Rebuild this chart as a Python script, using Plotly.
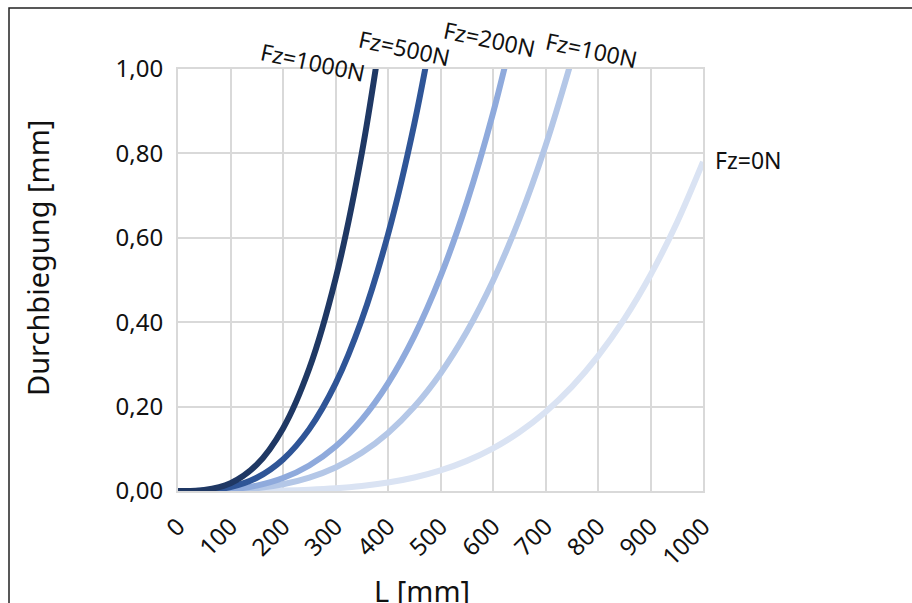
import plotly.graph_objects as go

# Length L [mm]
L_mm = [0, 50, 100, 150, 200, 250, 300, 350, 400, 450, 500, 550, 600, 650, 700, 750, 800, 850, 900, 950, 1000]

# Deflection [mm] (curves clipped at 1.00)
fz0 = [0, 0.0000, 0.0001, 0.0004, 0.0013, 0.0031, 0.0063, 0.0117, 0.0200, 0.0320, 0.0488,
       0.0714, 0.1011, 0.1392, 0.1873, 0.2468, 0.3195, 0.4072, 0.5118, 0.6353, 0.7800]
fz100 = [0, 0.0002, 0.0019, 0.0066, 0.0160, 0.0318, 0.0559, 0.0905, 0.1376, 0.1995, 0.2786,
         0.3772, 0.4981, 0.6440, 0.8177, 1.0222]
fz200 = [0, 0.0005, 0.0038, 0.0128, 0.0307, 0.0605, 0.1055, 0.1693, 0.2552, 0.3670, 0.5084,
         0.6830, 0.8951, 1.1488]
fz500 = [0, 0.0012, 0.0093, 0.0314, 0.0748, 0.1466, 0.2543, 0.4057, 0.6080, 0.8695, 1.1978]
fz1000 = [0, 0.0023, 0.0185, 0.0624, 0.1483, 0.2901, 0.5023, 0.7997, 1.1960]

series = [
    ("Fz=0N", fz0, "#DAE3F3"),
    ("Fz=100N", fz100, "#B4C7E7"),
    ("Fz=200N", fz200, "#8FAADC"),
    ("Fz=500N", fz500, "#2F5597"),
    ("Fz=1000N", fz1000, "#1F3864"),
]

x_ticks = [0, 100, 200, 300, 400, 500, 600, 700, 800, 900, 1000]
y_ticks = [0, 0.2, 0.4, 0.6, 0.8, 1.0]

FONT = "Noto Sans"
TXT = "#111111"

fig = go.Figure()
for name, vals, col in series:
    fig.add_trace(go.Scatter(
        x=L_mm[:len(vals)], y=vals, mode="lines", name=name,
        line=dict(color=col, width=6, shape="spline"),
        showlegend=False,
    ))

grid = "#D9D9D9"
fig.update_layout(
    width=912, height=603,
    margin=dict(l=178, r=209, t=69, b=112),
    paper_bgcolor="white", plot_bgcolor="white",
    separators=",.",
    font=dict(family=FONT, size=24, color=TXT),
    xaxis=dict(range=[0, 1000], tickvals=x_ticks, ticktext=[str(v) for v in x_ticks],
               tickangle=-45, showgrid=True, gridcolor=grid, gridwidth=2,
               showline=True, mirror=True, linecolor=grid, linewidth=2,
               zeroline=False, ticks="", ticklabelstandoff=10,
               tickfont=dict(size=24, color=TXT)),
    yaxis=dict(range=[0, 1.0], tickvals=y_ticks, tickformat=".2f",
               showgrid=True, gridcolor=grid, gridwidth=2,
               showline=True, mirror=True, linecolor=grid, linewidth=2,
               zeroline=False, ticks="", ticklabelstandoff=8,
               tickfont=dict(size=24, color=TXT)),
)

# curve labels (paper coordinates)
labels = [
    ("Fz=1000N", 0.257, 1.017, 12, "center"),
    ("Fz=500N", 0.432, 1.050, 12, "center"),
    ("Fz=200N", 0.594, 1.071, 12, "center"),
    ("Fz=100N", 0.788, 1.045, 12, "center"),
    ("Fz=0N", 1.019, 0.784, 0, "left"),
]
for text, x, y, ang, xa in labels:
    fig.add_annotation(x=x, y=y, xref="paper", yref="paper", text=text, showarrow=False,
                       textangle=ang, xanchor=xa, yanchor="middle",
                       font=dict(family=FONT, size=23, color=TXT))

# axis titles
fig.add_annotation(x=(422 - 178) / 525, y=(491 - 590) / 422, xref="paper", yref="paper",
                   text="L [mm]", showarrow=False, xanchor="center", yanchor="middle",
                   font=dict(family=FONT, size=29, color=TXT))
fig.add_annotation(x=(37 - 178) / 525, y=(491 - 258) / 422, xref="paper", yref="paper",
                   text="Durchbiegung [mm]", showarrow=False, textangle=-90,
                   xanchor="center", yanchor="middle",
                   font=dict(family=FONT, size=29, color=TXT))

# chart frame
fig.add_shape(type="rect", xref="paper", yref="paper",
              x0=(9 - 178) / 525, x1=(930 - 178) / 525,
              y0=(491 - 620) / 422, y1=(491 - 8) / 422,
              line=dict(color="#222222", width=1.5), fillcolor="rgba(0,0,0,0)", layer="below")

fig.write_html("out.html")
